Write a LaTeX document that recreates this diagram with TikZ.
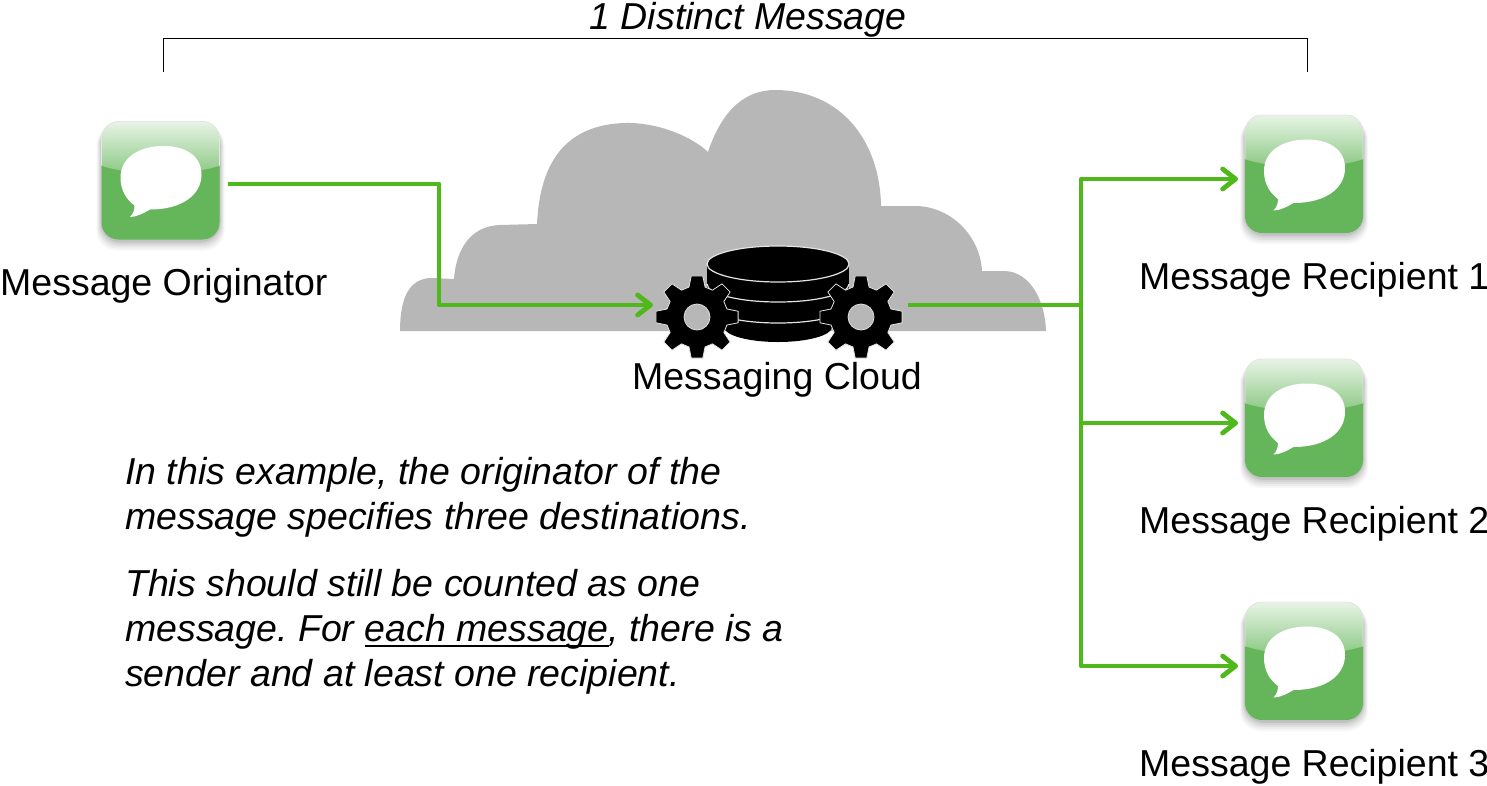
\documentclass[tikz,border=0pt]{standalone}
\usepackage{fontspec}
\setmainfont{Liberation Sans}
\usetikzlibrary{arrows.meta}
\frenchspacing
\definecolor{flowgreen}{HTML}{4FB81A}
\definecolor{icongreen}{HTML}{65B65A}
\definecolor{cloudgrey}{HTML}{B7B7B7}
\definecolor{cogrim}{HTML}{E4E4E4}
\tikzset{
  flow/.style={draw=flowgreen,line width=4.8pt,line join=round,-{Straight Barb[length=13pt,width=20pt,line width=4.8pt,round]}},
  flowplain/.style={draw=flowgreen,line width=4.8pt,line join=round},
  iconbox/.style={minimum width=118pt,minimum height=118pt,inner sep=0pt,outer sep=0pt,rounded corners=17pt,fill=icongreen},
  caption/.style={font=\fontsize{37.5}{44}\selectfont,inner sep=0pt,text=black},
  note/.style={font=\fontsize{37.5}{45}\selectfont\itshape,inner sep=0pt,align=left,anchor=north west},
  gearbox/.style={minimum size=94pt,inner sep=0pt,outer sep=0pt},
  dbarc/.style={draw=cogrim,line width=1.2pt},
}
\newcommand{\uline}[1]{\setbox0\hbox{#1}\rlap{\rule[-5.5pt]{\wd0}{2pt}}#1}
\newcommand{\msgicon}[3]{%
  \foreach \s/\o in {10/.03,8/.04,6/.05,4/.06,2/.08}{
    \fill[black,opacity=\o,rounded corners=20pt] (#2-59-\s/2,#3-59+4) rectangle (#2+59+\s/2,#3+59+1+\s);
  }
  \node[iconbox] (#1) at (#2,#3) {};
  \begin{scope}[shift={(#1.center)}]
    \begin{scope}
      \clip[rounded corners=17pt] (-59,-59) rectangle (59,59);
      \shade[top color=white!86!icongreen,bottom color=icongreen!78!white]
        (-60,-15) -- (-60,-60) -- (60,-60) -- (60,-15) .. controls (25,-4) and (-25,-4) .. (-60,-15) -- cycle;
    \end{scope}
    \draw[white!80!gray,line width=.7pt,rounded corners=17pt] (-59,-15) -- (-59,-59) -- (59,-59) -- (59,-15);
    \fill[white] (-40,-3) .. controls (-40,-24) and (-20,-34.5) .. (3,-34.5)
      .. controls (26,-34.5) and (41,-24) .. (41,-6)
      .. controls (41,14) and (22,29) .. (-10.5,29)
      .. controls (-16,32) and (-22,36) .. (-30.5,36.5)
      .. controls (-27,33) and (-26,29) .. (-26,25)
      .. controls (-34,19) and (-40,10) .. (-40,-3) -- cycle;
  \end{scope}
}
\newcommand{\cogwheel}[1]{%
  \begin{scope}[shift={(#1.center)}]
    \fill[black,draw=cogrim,line width=.8pt,even odd rule]
      (-15:31) \foreach \a in {0,45,...,315}{
        -- (\a-15:31) -- (\a-8:41.5) -- (\a+8:41.5) -- (\a+15:31) -- (\a+30:31)
      } -- cycle
      (0,0) circle[radius=13];
  \end{scope}
}
\begin{document}
\begin{tikzpicture}[x=1pt,y=-1pt]
\useasboundingbox (0,0) rectangle (1487,785);
% cloud
\fill[cloudgrey] (400,331) .. controls (400,300) and (408,278) .. (432,278) -- (454,279)
  .. controls (456,250) and (470,226) .. (500,225) -- (537,224)
  .. controls (539,185) and (550,125) .. (625,123)
  .. controls (655,122) and (690,135) .. (708,152)
  .. controls (722,110) and (745,90) .. (775,90)
  .. controls (840,90) and (880,140) .. (881,206) -- (915,206)
  .. controls (950,206) and (980,235) .. (982,271) -- (1005,271)
  .. controls (1030,272) and (1045,300) .. (1046,331) -- cycle;
% database
\fill[black] (707,264) rectangle (849,290);
\fill[black] (722,290) rectangle (834,318);
\fill[black] (778,327) ellipse[x radius=54,y radius=15];
\draw[dbarc] (707,284) arc[start angle=180,end angle=0,x radius=71,y radius=18];
\draw[dbarc] (707,305) arc[start angle=180,end angle=0,x radius=71,y radius=18];
\fill[black,draw=cogrim,line width=1.2pt] (778,264) ellipse[x radius=71,y radius=18];
% gears
\node[gearbox] (gearL) at (697,317) {};
\node[gearbox] (gearR) at (861,317) {};
\cogwheel{gearL}
\cogwheel{gearR}
% icons
\msgicon{orig}{160.5}{180.5}
\msgicon{recA}{1304}{174}
\msgicon{recB}{1304}{418}
\msgicon{recC}{1304}{661}
% captions
\node[caption,anchor=base west] (lorig) at (0,295) {Message Originator};
\node[caption,anchor=base] (lcloud) at (777,389) {Messaging Cloud};
\node[caption,anchor=base west] (lrecA) at (1139,289) {Message Recipient 1};
\node[caption,anchor=base west] (lrecB) at (1139,533) {Message Recipient 2};
\node[caption,anchor=base west] (lrecC) at (1139,776) {Message Recipient 3};
% connectors
\coordinate (hub) at (1081,305);
\coordinate (bend) at (439,184);
\coordinate (tapA) at ([shift={(-7,5)}]recA.west);
\coordinate (tapB) at ([shift={(-7,5)}]recB.west);
\coordinate (tapC) at ([shift={(-7,5)}]recC.west);
\draw[flow] ([shift={(8,3.5)}]orig.east) -- (bend) -- (bend |- hub) -- ([shift={(3,-12)}]gearL.west);
\draw[flowplain] ([shift={(0,-12)}]gearR.east) -- (hub);
\draw[flow] (hub) -- (hub |- tapA) -- (tapA);
\draw[flow] (hub) -- (hub |- tapC) -- (tapC);
\draw[flow] (hub |- tapB) -- (tapB);
% bracket
\coordinate (brA) at (163,72);
\coordinate (brB) at (1307,72);
\draw[black,line width=.9pt] (brA) -- (163,38.5) -- (1307,38.5) -- (brB);
\node[note,anchor=base] (ttl) at (748,29) {1 Distinct Message};
% notes
\node[note] (pa) at (125,457) {In this example, the originator of the\\message specifies three destinations.};
\node[note] (pb) at (125,569) {This should still be counted as one\\message. For \uline{each message}, there is a\\sender and at least one recipient.};
\end{tikzpicture}
\end{document}
